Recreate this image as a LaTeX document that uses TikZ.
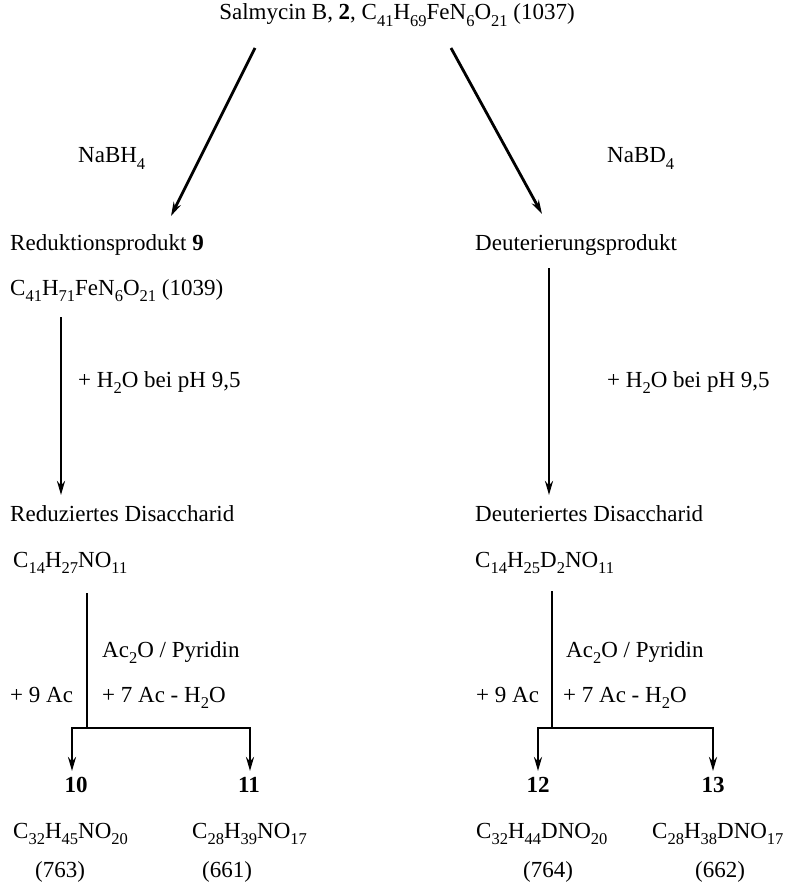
\documentclass[tikz,border=0pt]{standalone}
\usepackage{fontspec}
\setmainfont{Liberation Serif}
\usetikzlibrary{arrows.meta, positioning}
\newcommand{\chs}[1]{\raisebox{-0.27em}{\fontsize{16.5}{17}\selectfont #1}}

\begin{document}
\begin{tikzpicture}[x=1pt, y=-1pt, >={Stealth[length=14pt,width=8pt]},
  txt/.style={anchor=base west, inner sep=0pt, font=\fontsize{23}{27}\selectfont},
  ctr/.style={anchor=base, inner sep=0pt, font=\fontsize{23}{27}\selectfont},
  rxn/.style={->, line width=2.8pt},
  fork/.style={line width=2.8pt}]
  \useasboundingbox (0,0) rectangle (791,885);

  % Ausgangsverbindung und Reduktion
  \node [ctr] (salm) at (397,20) {Salmycin B, \textbf{2}, C\chs{41}H\chs{69}FeN\chs{6}O\chs{21} (1037)};
  \node [txt] (nabh) at (78,163) {NaBH\chs{4}};
  \node [txt] (nabd) at (607,163) {NaBD\chs{4}};

  \node [txt] (redprod) at (10,250) {Reduktionsprodukt \textbf{9}};
  \node [txt] (redform) at (10,295) {C\chs{41}H\chs{71}FeN\chs{6}O\chs{21} (1039)};
  \node [txt] (deuprod) at (475,251) {Deuterierungsprodukt};

  \node [txt] (hydL) at (78,387) {+ H\chs{2}O bei pH 9,5};
  \node [txt] (hydR) at (607,387) {+ H\chs{2}O bei pH 9,5};

  \node [txt] (redDi) at (10,521) {Reduziertes Disaccharid};
  \node [txt] (redDiF) at (13,567) {C\chs{14}H\chs{27}NO\chs{11}};
  \node [txt] (deuDi) at (475,521) {Deuteriertes Disaccharid};
  \node [txt] (deuDiF) at (475,567) {C\chs{14}H\chs{25}D\chs{2}NO\chs{11}};

  % Acetylierung
  \node [txt] (acL) at (102,657) {Ac\chs{2}O / Pyridin};
  \node [txt] (ninL) at (10,702) {+ 9 Ac};
  \node [txt] (sevL) at (102,702) {+ 7 Ac - H\chs{2}O};
  \node [txt] (acR) at (566,657) {Ac\chs{2}O / Pyridin};
  \node [txt] (ninR) at (476,702) {+ 9 Ac};
  \node [txt] (sevR) at (563,702) {+ 7 Ac - H\chs{2}O};

  \node [ctr] (n10) at (76,792) {\textbf{10}};
  \node [ctr] (n11) at (249,792) {\textbf{11}};
  \node [ctr] (n12) at (538,792) {\textbf{12}};
  \node [ctr] (n13) at (713,792) {\textbf{13}};

  \node [txt] (f10) at (13,838) {C\chs{32}H\chs{45}NO\chs{20}};
  \node [txt] (f11) at (192,838) {C\chs{28}H\chs{39}NO\chs{17}};
  \node [txt] (f12) at (476,838) {C\chs{32}H\chs{44}DNO\chs{20}};
  \node [txt] (f13) at (652,838) {C\chs{28}H\chs{38}DNO\chs{17}};

  \node [ctr] (m10) at (60,877) {(763)};
  \node [ctr] (m11) at (227,877) {(661)};
  \node [ctr] (m12) at (548,877) {(764)};
  \node [ctr] (m13) at (720,877) {(662)};

  \coordinate (dL0) at (255,48);
  \coordinate (dL1) at (171,216);
  \coordinate (dR0) at (451,48);
  \coordinate (dR1) at (542,214);
  \coordinate (vL0) at (61,317);
  \coordinate (vL1) at (61,495);
  \coordinate (vR0) at (549,268);
  \coordinate (vR1) at (549,495);
  \coordinate (kL0) at (87,593);
  \coordinate (kL1) at (87,728);
  \coordinate (aL10) at (72,771);
  \coordinate (aL11) at (250,771);
  \coordinate (kR0) at (552,591);
  \coordinate (kR1) at (552,728);
  \coordinate (aR12) at (538,771);
  \coordinate (aR13) at (713,771);

  \draw[rxn] (dL0) -- (dL1);
  \draw[rxn] (dR0) -- (dR1);
  \draw[rxn] (vL0) -- (vL1);
  \draw[rxn] (vR0) -- (vR1);
  \draw[fork] (kL0) -- (kL1);
  \draw[rxn] (kL1) -| (aL10);
  \draw[rxn] (kL1) -| (aL11);
  \draw[fork] (kR0) -- (kR1);
  \draw[rxn] (kR1) -| (aR12);
  \draw[rxn] (kR1) -| (aR13);
\end{tikzpicture}
\end{document}
